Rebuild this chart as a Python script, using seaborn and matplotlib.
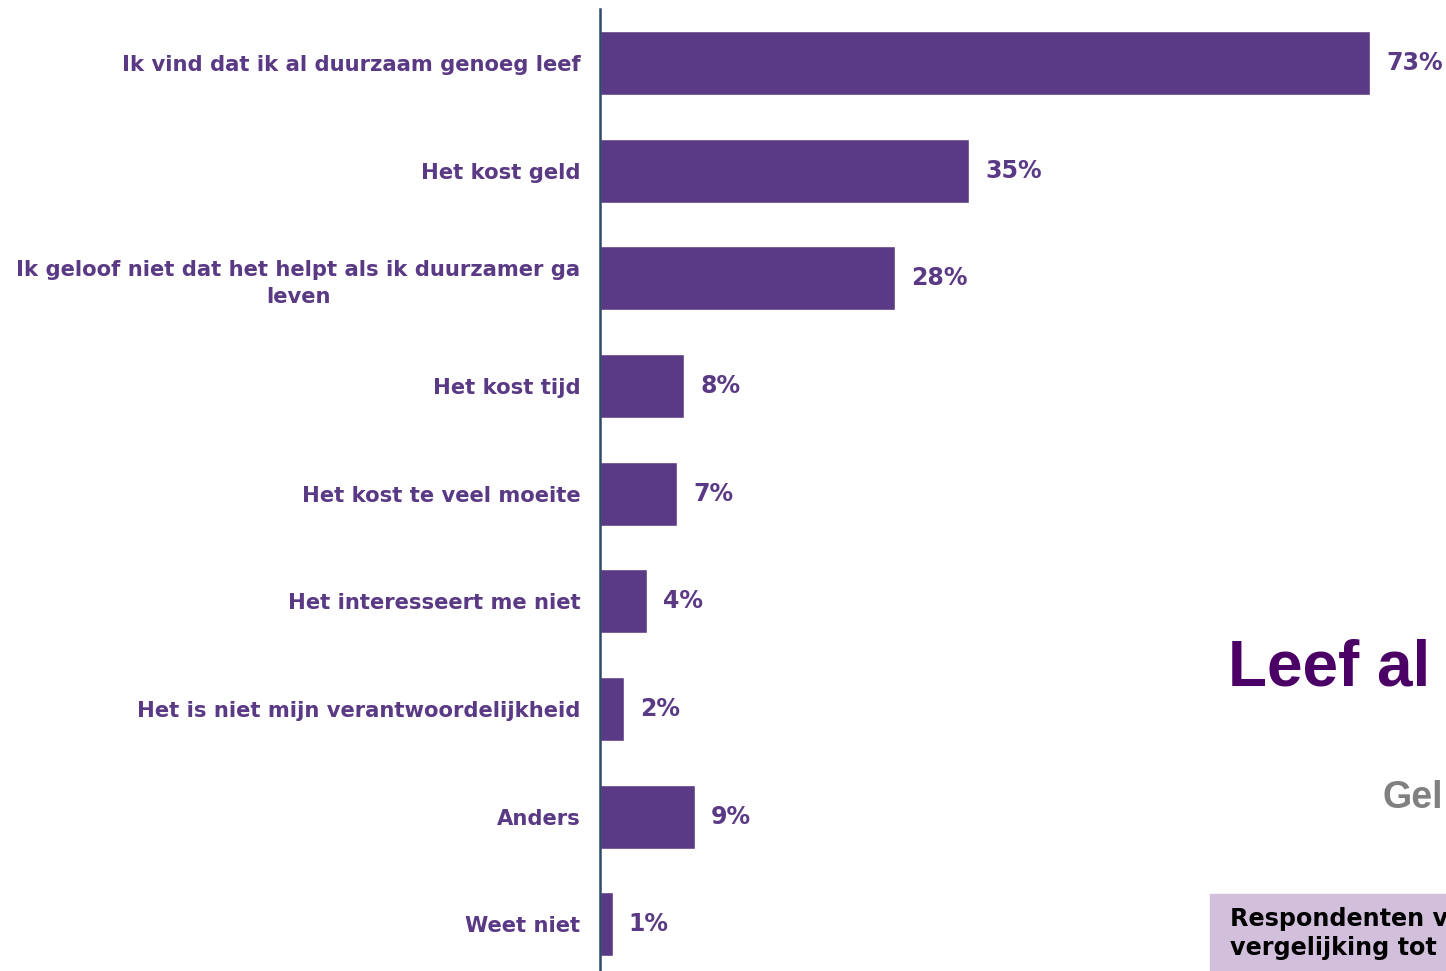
import matplotlib
matplotlib.use("Agg")
import matplotlib.pyplot as plt
import seaborn as sns
import pandas as pd

categories = [
    "Ik vind dat ik al duurzaam genoeg leef",
    "Het kost geld",
    "Ik geloof niet dat het helpt als ik duurzamer ga\nleven",
    "Het kost tijd",
    "Het kost te veel moeite",
    "Het interesseert me niet",
    "Het is niet mijn verantwoordelijkheid",
    "Anders",
    "Weet niet",
]
values = [73, 35, 28, 8, 7.3, 4.5, 2.3, 9, 1.2]
value_labels = ["73%", "35%", "28%", "8%", "7%", "4%", "2%", "9%", "1%"]

BAR = "#5B3A85"
TXT = "#5B3A85"

sns.set_theme(style="white")
plt.rcParams["font.family"] = ["DejaVu Sans"]

df = pd.DataFrame({"cat": categories, "val": values})

fig = plt.figure(figsize=(14.46, 9.71), dpi=100)
ax = fig.add_axes([600 / 1446, 1 - 978 / 971, 844 / 1446, (978 - 9.2) / 971])

sns.barplot(data=df, x="val", y="cat", orient="h", color=BAR, width=0.595,
            saturation=1, ax=ax, order=categories)

ax.set_xlim(0, 80)
ax.set_ylim(8.5, -0.5)
ax.set_xlabel("")
ax.set_ylabel("")
ax.set_xticks([])
for s in ["top", "right", "bottom"]:
    ax.spines[s].set_visible(False)
ax.spines["left"].set_color("#2F4A6A")
ax.spines["left"].set_linewidth(1.8)
ax.tick_params(axis="y", length=0, pad=14)
for lab in ax.get_yticklabels():
    lab.set_fontweight("bold")
    lab.set_color(TXT)
    lab.set_fontsize(15.2)
    lab.set_horizontalalignment("right")
    lab.set_multialignment("center")
    lab.set_linespacing(1.4)

for i, (v, t) in enumerate(zip(values, value_labels)):
    ax.annotate(t, xy=(v, i), xytext=(11.5, 0), textcoords="offset points",
                ha="left", va="center", fontsize=17, fontweight="bold",
                color=TXT, annotation_clip=False)

# right-side partial elements
fig.text(1228 / 1446, 1 - 668 / 971, "Leef al", fontsize=46, fontweight="heavy",
         family=["Liberation Sans", "DejaVu Sans"], color="#4B0066",
         ha="left", va="center")
fig.text(1383 / 1446, 1 - 798 / 971, "Gel", fontsize=27, fontweight="bold",
         family=["Liberation Sans", "DejaVu Sans"], color="#808080",
         ha="left", va="center")
box = plt.Rectangle((1210 / 1446, 0), 236 / 1446, (971 - 894) / 971,
                    transform=fig.transFigure, color="#D2BFDB", zorder=0)
fig.patches.append(box)
fig.text(1230 / 1446, 1 - 919 / 971, "Respondenten v", fontsize=17.2,
         fontweight="bold", color="black", ha="left", va="center")
fig.text(1230 / 1446, 1 - 948 / 971, "vergelijking tot", fontsize=17.2,
         fontweight="bold", color="black", ha="left", va="center")

fig.savefig("out.png", dpi=100)
